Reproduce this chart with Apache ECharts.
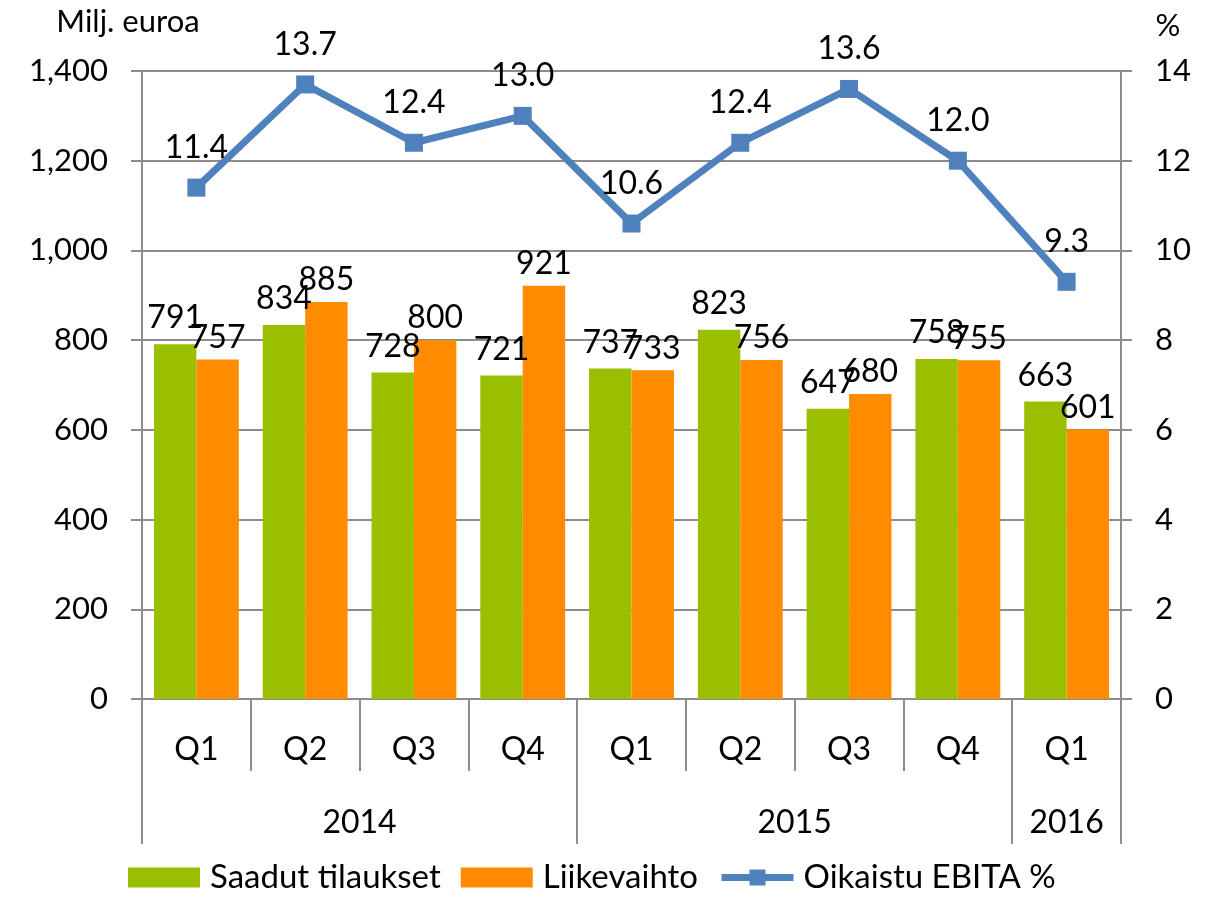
<!DOCTYPE html>
<html><head><meta charset="utf-8">
<script src="https://cdn.jsdelivr.net/npm/echarts@6/dist/echarts.min.js"></script>
<style>html,body{margin:0;padding:0;background:#fff}#c{width:1225px;height:899px}</style>
</head><body><div id="c"></div>
<script>
const quarters = ['Q1','Q2','Q3','Q4','Q1','Q2','Q3','Q4','Q1'];
const years = ['2014','2015','2016'];
const yearSpans = [4,4,1];
const orders = [791,834,728,721,737,823,647,758,663];
const revenue = [757,885,800,921,733,756,680,755,601];
const ebita = [11.4,13.7,12.4,13.0,10.6,12.4,13.6,12.0,9.3];
const leftTicks = [0,1400,200];
const rightTicks = [0,14,2];

const FONT = 'Lato';
const grey = '#8c8c8c';
const bounds = [0]; const centres = [];
yearSpans.forEach(s => { const b = bounds[bounds.length-1]; centres.push(b + s/2); bounds.push(b + s); });

const chart = echarts.init(document.getElementById('c'));
chart.setOption({
  animation:false,
  textStyle:{fontFamily:FONT},
  grid:{left:142,right:104,top:71,bottom:200,containLabel:false},
  legend:{
    bottom:0,left:123,itemWidth:72,itemHeight:20,itemGap:20,
    textStyle:{fontFamily:FONT,fontSize:33,color:'#000',padding:[0,0,0,5]},
    data:[{name:'Saadut tilaukset',icon:'rect'},{name:'Liikevaihto',icon:'rect'},
          {name:'Oikaistu EBITA %',lineStyle:{width:7},itemStyle:{color:'#4f81bd'}}]
  },
  xAxis:[
    {type:'category',data:quarters,position:'bottom',
     axisLine:{lineStyle:{color:grey,width:2}},
     axisTick:{show:true,length:72,interval:0,lineStyle:{color:grey,width:2}},
     axisLabel:{fontFamily:FONT,fontSize:32,color:'#000',margin:35,interval:0},
     splitLine:{show:false}},
    {type:'value',min:0,max:quarters.length,position:'bottom',
     axisLine:{show:false},
     axisTick:{show:true,length:145,customValues:bounds,lineStyle:{color:grey,width:2}},
     axisLabel:{fontFamily:FONT,fontSize:32,color:'#000',margin:108,customValues:centres,
       formatter:v=>{const i=centres.indexOf(v);return i>=0?years[i]:'';}},
     splitLine:{show:false}}
  ],
  yAxis:[
    {type:'value',min:leftTicks[0],max:leftTicks[1],interval:leftTicks[2],
     name:'Milj. euroa',nameLocation:'end',nameGap:34,
     nameTextStyle:{fontFamily:FONT,fontSize:31,color:'#000',align:'center',padding:[0,28,0,0]},
     axisLine:{show:true,lineStyle:{color:grey,width:2}},
     axisTick:{show:true,length:11,lineStyle:{color:grey,width:2}},
     axisLabel:{fontFamily:FONT,fontSize:31,color:'#000',margin:34,
       formatter:v=>v.toLocaleString('en-US')},
     splitLine:{show:true,lineStyle:{color:grey,width:2}}},
    {type:'value',min:rightTicks[0],max:rightTicks[1],interval:rightTicks[2],
     name:'%',nameLocation:'end',nameGap:30,
     nameTextStyle:{fontFamily:FONT,fontSize:31,color:'#000',align:'center',padding:[0,0,0,94]},
     axisLine:{show:true,lineStyle:{color:grey,width:2}},
     axisTick:{show:true,length:11,lineStyle:{color:grey,width:2}},
     axisLabel:{fontFamily:FONT,fontSize:31,color:'#000',margin:34},
     splitLine:{show:false}}
  ],
  series:[
    {name:'Saadut tilaukset',type:'bar',data:orders,xAxisIndex:0,yAxisIndex:0,
     barGap:'0%',barCategoryGap:'22%',itemStyle:{color:'#99bf00'},
     label:{show:true,position:'top',distance:10,fontFamily:FONT,fontSize:32,color:'#000'}},
    {name:'Liikevaihto',type:'bar',data:revenue,xAxisIndex:0,yAxisIndex:0,
     barGap:'0%',barCategoryGap:'22%',itemStyle:{color:'#ff8c00'},
     label:{show:true,position:'top',distance:6,fontFamily:FONT,fontSize:32,color:'#000'}},
    {name:'Oikaistu EBITA %',type:'line',data:ebita,xAxisIndex:0,yAxisIndex:1,
     symbol:'rect',symbolSize:18,z:5,
     lineStyle:{color:'#4f81bd',width:7},itemStyle:{color:'#4f81bd'},
     label:{show:true,position:'top',distance:15,fontFamily:FONT,fontSize:32,color:'#000',
       formatter:p=>p.value.toFixed(1)}}
  ]
});
</script></body></html>
